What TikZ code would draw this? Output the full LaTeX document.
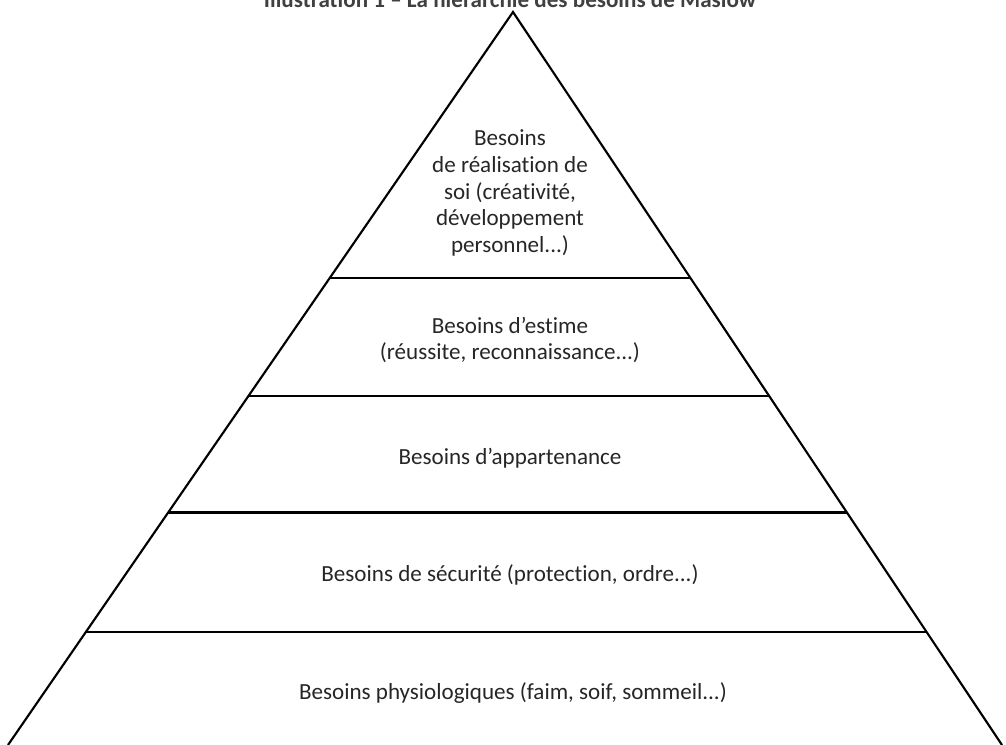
\documentclass[tikz,border=0pt]{standalone}
\usepackage{fontspec}
\setmainfont{Carlito}[Ligatures=NoCommon]
\usetikzlibrary{calc}
\tikzset{
	niveau/.style={font=\fontsize{17.3}{20}\selectfont, align=center, text=black!85},
	trait/.style={line width=2pt},
}
\begin{document}
\begin{tikzpicture}[x=0.75pt,y=-0.75pt]
	\useasboundingbox (0,0) rectangle (1006,745);
	\clip (0,0) rectangle (1006,745);
	\node[font=\bfseries\fontsize{17.3}{20}\selectfont, text=black!75, anchor=base] (titre) at (510,8) {Illustration 1 -- La hiérarchie des besoins de Maslow};
	% sommet et base
	\coordinate (sommet) at (513,12);
	\coordinate (gauche) at (8,745);
	\coordinate (droite) at (1002,745);
	\draw[line width=1.6pt] (gauche) -- (sommet) -- (droite);
	% separations
	\draw[trait] ($(sommet)!0.363!(gauche)$) -- ($(sommet)!0.363!(droite)$);
	\draw[trait] ($(sommet)!0.524!(gauche)$) -- ($(sommet)!0.524!(droite)$);
	\draw[trait] ($(sommet)!0.683!(gauche)$) -- ($(sommet)!0.683!(droite)$);
	\draw[trait] ($(sommet)!0.846!(gauche)$) -- ($(sommet)!0.846!(droite)$);
	% textes
	\node[niveau] (soi) at (510,193) {Besoins\\de réalisation de\\soi (créativité,\\développement\\personnel...)};
	\node[niveau] (estime) at (510,340) {Besoins d’estime\\(réussite, reconnaissance...)};
	\node[niveau] (appartenance) at (510,458) {Besoins d’appartenance};
	\node[niveau] (securite) at (510,575) {Besoins de sécurité (protection, ordre...)};
	\node[niveau] (physio) at (513,693) {Besoins physiologiques (faim, soif, sommeil...)};
\end{tikzpicture}
\end{document}
